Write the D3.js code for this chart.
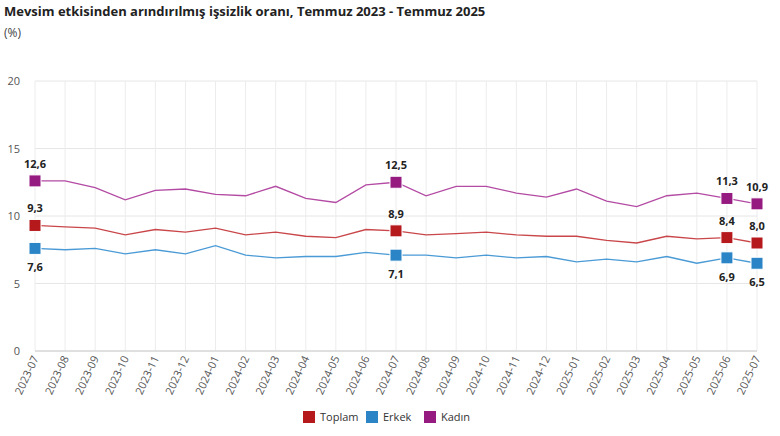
<!DOCTYPE html><html><head><meta charset="utf-8"><script src="https://cdn.jsdelivr.net/npm/d3@7"></script>
<style>body{margin:0;background:#fff;font-family:"Open Sans",Arial,sans-serif}</style></head><body><svg id="c" width="780" height="436"></svg>
<script>
const months=["2023-07","2023-08","2023-09","2023-10","2023-11","2023-12","2024-01","2024-02","2024-03","2024-04","2024-05","2024-06","2024-07","2024-08","2024-09","2024-10","2024-11","2024-12","2025-01","2025-02","2025-03","2025-04","2025-05","2025-06","2025-07"];
const toplam=[9.3,9.2,9.1,8.6,9.0,8.8,9.1,8.6,8.8,8.5,8.4,9.0,8.9,8.6,8.7,8.8,8.6,8.5,8.5,8.2,8.0,8.5,8.3,8.4,8.0];
const erkek=[7.6,7.5,7.6,7.2,7.5,7.2,7.8,7.1,6.9,7.0,7.0,7.3,7.1,7.1,6.9,7.1,6.9,7.0,6.6,6.8,6.6,7.0,6.5,6.9,6.5];
const kadin=[12.6,12.6,12.1,11.2,11.9,12.0,11.6,11.5,12.2,11.3,11.0,12.3,12.5,11.5,12.2,12.2,11.7,11.4,12.0,11.1,10.7,11.5,11.7,11.3,10.9];
const yTicks=[0,5,10,15,20];
const marked=[0,12,23,24];
const series=[{name:"Toplam",v:toplam,c:"#b5191c",lc:"#c9474a",below:false},{name:"Erkek",v:erkek,c:"#2a84c6",lc:"#4a9ad6",below:true},{name:"Kadın",v:kadin,c:"#951b81",lc:"#b34aa3",below:false}];
const svg=d3.select("#c");
const x=d3.scalePoint().domain(months).range([35,757]);
const y=d3.scaleLinear().domain([0,20]).range([351,81]);
svg.append("text").attr("x",4).attr("y",16).attr("font-size",13).attr("font-weight","bold").attr("fill","#222").text("Mevsim etkisinden arındırılmış işsizlik oranı, Temmuz 2023 - Temmuz 2025");
svg.append("text").attr("x",4).attr("y",37).attr("font-size",12).attr("fill","#444").text("(%)");
svg.selectAll(".hg").data(yTicks).join("line").attr("x1",35).attr("x2",757).attr("y1",d=>y(d)).attr("y2",d=>y(d)).attr("stroke","#e6e6e6");
svg.selectAll(".vg").data(months).join("line").attr("x1",d=>x(d)).attr("x2",d=>x(d)).attr("y1",81).attr("y2",351).attr("stroke","#ececec");
svg.append("line").attr("x1",35).attr("x2",757).attr("y1",351).attr("y2",351).attr("stroke","#ccc");
svg.selectAll(".yt").data(yTicks).join("text").attr("x",20).attr("y",d=>y(d)+4).attr("text-anchor","end").attr("font-size",11).attr("fill","#555").text(d=>d);
svg.selectAll(".xt").data(months).join("text").attr("transform",d=>`translate(${x(d)+4},358) rotate(-65)`).attr("text-anchor","end").attr("font-size",11).attr("fill","#555").text(d=>d);
const line=d3.line().x((d,i)=>x(months[i])).y(d=>y(d));
series.forEach(s=>{
 svg.append("path").attr("d",line(s.v)).attr("fill","none").attr("stroke",s.lc).attr("stroke-width",1.3);
 marked.forEach(i=>{
  svg.append("rect").attr("x",x(months[i])-6).attr("y",y(s.v[i])-6).attr("width",12).attr("height",12).attr("fill",s.c).attr("stroke","#fff").attr("stroke-width",1);
  svg.append("text").attr("x",x(months[i])).attr("y",s.below?y(s.v[i])+23:y(s.v[i])-13).attr("text-anchor","middle").attr("font-size",11).attr("font-weight","bold").attr("fill","#222").text(String(s.v[i].toFixed(1)).replace(".",","));
 });
});
const lg=svg.append("g");
const lx=[303,366,424];
series.forEach((s,i)=>{
 lg.append("rect").attr("x",lx[i]).attr("y",411).attr("width",12).attr("height",12).attr("fill",s.c);
 lg.append("text").attr("x",lx[i]+17).attr("y",421).attr("font-size",11).attr("fill","#333").text(s.name);
});
</script></body></html>
